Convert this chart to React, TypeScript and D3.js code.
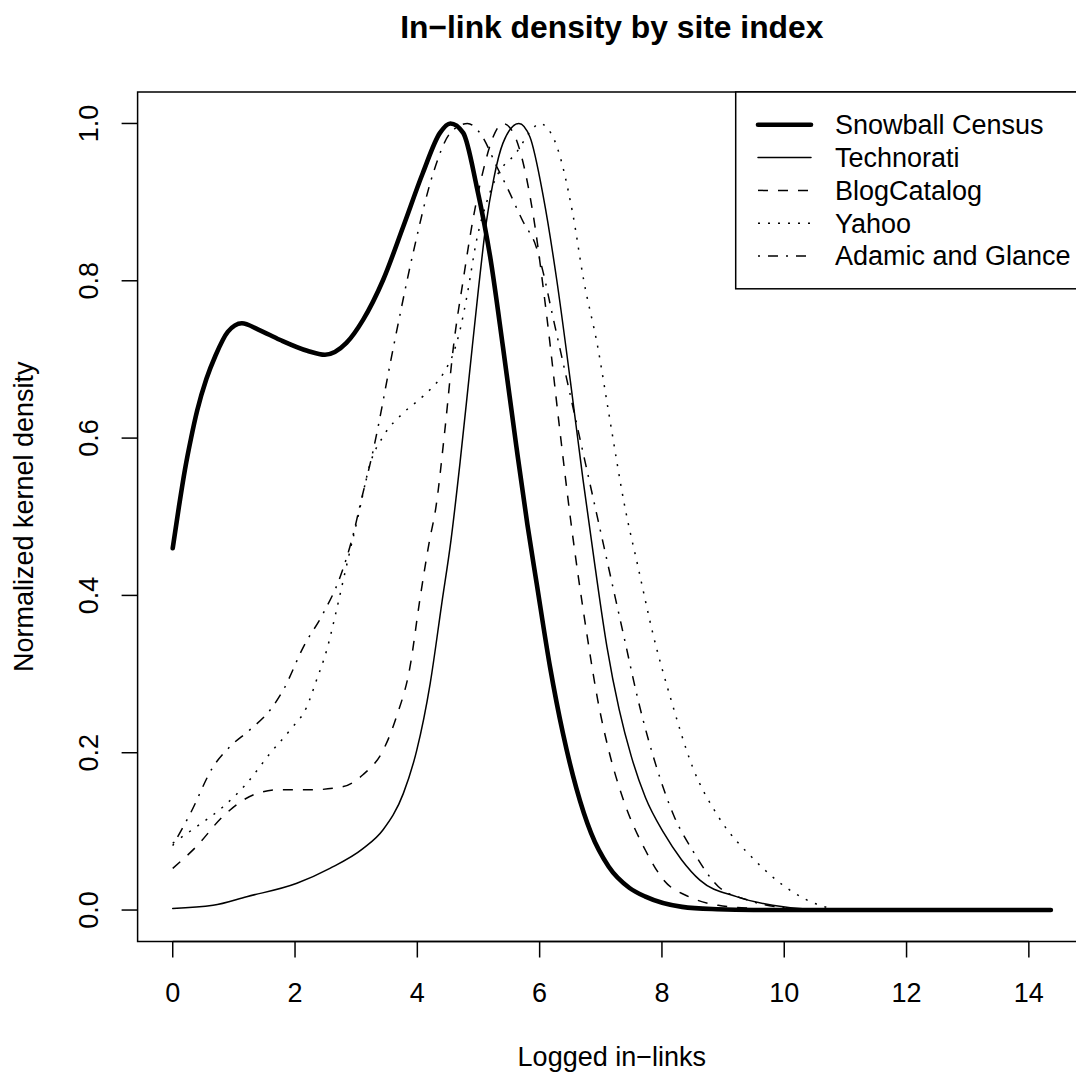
import React, { useEffect, useRef } from 'react';
import * as d3 from 'd3';

const snowballCensus = [
  [0, 0.46], [0.1, 0.512], [0.2, 0.56], [0.3, 0.6], [0.4, 0.635], [0.55, 0.675],
  [0.7, 0.705], [0.9, 0.735], [1.13, 0.746],
  [1.4, 0.738], [1.75, 0.725], [2.2, 0.711], [2.49, 0.706], [2.84, 0.721], [3.11, 0.75],
  [3.44, 0.801], [3.77, 0.869], [4.09, 0.937], [4.37, 0.988], [4.54, 1.0], [4.75, 0.988],
  [4.97, 0.92], [5.19, 0.831], [5.4, 0.716], [5.62, 0.589], [5.8, 0.49], [5.95, 0.416],
  [6.17, 0.309], [6.38, 0.225], [6.6, 0.155], [6.84, 0.098], [7.13, 0.055], [7.47, 0.028],
  [7.73, 0.017], [8.33, 0.004], [8.9, 0.001], [9.5, 0], [14.36, 0],
];
const technorati = [
  [0, 0.002], [0.66, 0.006], [1.21, 0.017], [2.03, 0.034], [2.57, 0.053], [3.11, 0.078],
  [3.44, 0.102], [3.77, 0.148], [3.99, 0.203], [4.21, 0.288], [4.4, 0.39], [4.55, 0.47],
  [4.7, 0.57], [4.85, 0.68], [5.0, 0.79], [5.12, 0.87], [5.25, 0.93], [5.4, 0.975],
  [5.66, 1.0], [5.84, 0.983], [6.06, 0.907], [6.28, 0.801], [6.5, 0.674], [6.71, 0.547],
  [6.9, 0.44], [7.1, 0.335], [7.3, 0.255], [7.5, 0.195], [7.73, 0.143], [8.03, 0.098],
  [8.32, 0.064], [8.62, 0.038], [9.22, 0.017], [9.81, 0.006], [10.4, 0.001], [11, 0],
  [14.36, 0],
];
const blogCatalog = [
  [0, 0.053], [0.39, 0.081], [0.82, 0.119], [1.37, 0.148], [1.75, 0.153], [2.3, 0.153],
  [2.79, 0.157], [3.11, 0.172], [3.44, 0.203], [3.66, 0.246], [3.88, 0.309], [4.04, 0.394],
  [4.2, 0.47], [4.3, 0.51], [4.45, 0.61], [4.59, 0.716], [4.75, 0.801], [4.91, 0.878],
  [5.08, 0.941], [5.24, 0.983], [5.4, 1.0], [5.57, 0.988], [5.73, 0.95], [5.89, 0.886],
  [6.11, 0.759], [6.33, 0.61], [6.5, 0.5], [6.77, 0.352], [6.95, 0.267], [7.13, 0.203],
  [7.37, 0.14], [7.73, 0.076], [8.03, 0.038], [8.44, 0.017], [8.92, 0.006], [9.5, 0.002],
  [10.2, 0], [14.36, 0],
];
const yahoo = [
  [0, 0.085], [0.39, 0.106], [0.82, 0.131], [1.21, 0.161], [1.59, 0.199], [1.92, 0.229],
  [2.19, 0.258], [2.35, 0.292], [2.52, 0.331], [2.68, 0.382], [2.84, 0.437], [3.03, 0.5],
  [3.23, 0.568], [3.44, 0.602], [3.77, 0.632], [4.09, 0.653], [4.43, 0.683], [4.59, 0.708],
  [4.7, 0.738], [4.81, 0.78], [4.97, 0.852], [5.13, 0.899], [5.3, 0.933], [5.62, 0.963],
  [5.85, 0.99], [6.0, 1.0], [6.24, 0.979], [6.54, 0.886], [6.72, 0.801], [6.95, 0.716],
  [7.13, 0.632], [7.4, 0.51], [7.61, 0.436], [7.85, 0.352], [8.15, 0.267], [8.5, 0.182],
  [8.92, 0.119], [9.51, 0.064], [10.1, 0.025], [10.58, 0.006], [11.0, 0], [14.36, 0],
];
const adamicGlance = [
  [0, 0.082], [0.29, 0.123], [0.66, 0.182], [0.94, 0.208], [1.26, 0.229], [1.59, 0.254],
  [1.81, 0.28], [2.14, 0.335], [2.46, 0.377], [2.74, 0.424], [2.96, 0.48], [3.07, 0.517],
  [3.28, 0.585], [3.61, 0.716], [3.93, 0.835], [4.26, 0.937], [4.54, 0.988], [4.82, 1.0],
  [5.05, 0.985], [5.3, 0.945], [5.46, 0.92], [5.73, 0.875], [5.94, 0.844], [6.06, 0.81],
  [6.2, 0.76], [6.4, 0.69], [6.6, 0.62], [6.8, 0.55], [7.0, 0.48], [7.2, 0.41],
  [7.4, 0.34], [7.61, 0.267], [7.91, 0.182], [8.2, 0.119], [8.5, 0.076], [8.92, 0.03],
  [9.39, 0.013], [10.1, 0.002], [10.6, 0], [14.36, 0],
];

const seriesNames = ['Snowball Census', 'Technorati', 'BlogCatalog', 'Yahoo', 'Adamic and Glance'];
const xTicks = [0, 2, 4, 6, 8, 10, 12, 14];
const yTicks = [0.0, 0.2, 0.4, 0.6, 0.8, 1.0];

const FONT = '"Liberation Sans", Arial, Helvetica, sans-serif';
const FS = 27;

const App = () => {
  const svgRef = useRef(null);

  useEffect(() => {
    const width = 1076;
    const height = 1076;
    const svg = d3.select(svgRef.current);
    svg.selectAll('*').remove();

    svg.append('rect').attr('width', width).attr('height', height).attr('fill', '#fff');

    // plot region (R: 4% padding around data range)
    const left = 137.6, right = 1086, top = 92, bottom = 941.5;
    const xMax = 14.36;
    const x = d3.scaleLinear().domain([-0.04 * xMax, xMax * 1.04]).range([left, right]);
    const y = d3.scaleLinear().domain([-0.04, 1.04]).range([bottom, top]);

    const line = d3.line()
      .x((d) => x(d[0]))
      .y((d) => y(d[1]))
      .curve(d3.curveMonotoneX);

    const styles = [
      { data: snowballCensus, width: 4.6, dash: null },
      { data: technorati, width: 1.5, dash: null },
      { data: blogCatalog, width: 1.5, dash: '10,10' },
      { data: yahoo, width: 1.5, dash: '2,8' },
      { data: adamicGlance, width: 1.5, dash: '2,8,10,8' },
    ];

    // draw thin ones first, thick one on top
    [1, 2, 3, 4, 0].forEach((i) => {
      const s = styles[i];
      svg.append('path')
        .attr('d', line(s.data))
        .attr('fill', 'none')
        .attr('stroke', '#000')
        .attr('stroke-width', s.width)
        .attr('stroke-linecap', s.dash ? 'butt' : 'round')
        .attr('stroke-linejoin', 'round')
        .attr('stroke-dasharray', s.dash);
    });

    // box
    svg.append('rect')
      .attr('x', left).attr('y', top)
      .attr('width', right - left).attr('height', bottom - top)
      .attr('fill', 'none').attr('stroke', '#000').attr('stroke-width', 1.5);

    // x axis
    const xAxis = svg.append('g');
    xAxis.append('line')
      .attr('x1', x(xTicks[0])).attr('x2', x(xTicks[xTicks.length - 1]))
      .attr('y1', bottom).attr('y2', bottom)
      .attr('stroke', '#000').attr('stroke-width', 1.5);
    xTicks.forEach((t) => {
      xAxis.append('line')
        .attr('x1', x(t)).attr('x2', x(t))
        .attr('y1', bottom).attr('y2', bottom + 16)
        .attr('stroke', '#000').attr('stroke-width', 1.5);
      xAxis.append('text')
        .attr('x', x(t)).attr('y', 1002)
        .attr('text-anchor', 'middle')
        .attr('font-family', FONT).attr('font-size', FS)
        .text(String(t));
    });

    // y axis
    const yAxis = svg.append('g');
    yTicks.forEach((t) => {
      yAxis.append('line')
        .attr('x1', left - 16).attr('x2', left)
        .attr('y1', y(t)).attr('y2', y(t))
        .attr('stroke', '#000').attr('stroke-width', 1.5);
      yAxis.append('text')
        .attr('transform', `translate(98,${y(t)}) rotate(-90)`)
        .attr('text-anchor', 'middle')
        .attr('font-family', FONT).attr('font-size', FS)
        .text(t.toFixed(1));
    });

    const cx = (left + right) / 2;
    const cy = (top + bottom) / 2;

    svg.append('text')
      .attr('x', cx).attr('y', 38)
      .attr('text-anchor', 'middle')
      .attr('font-family', FONT).attr('font-size', 31.8).attr('font-weight', 'bold')
      .text('In\u2212link density by site index');

    svg.append('text')
      .attr('x', cx).attr('y', 1066)
      .attr('text-anchor', 'middle')
      .attr('font-family', FONT).attr('font-size', FS)
      .text('Logged in\u2212links');

    svg.append('text')
      .attr('transform', `translate(33,${cy}) rotate(-90)`)
      .attr('text-anchor', 'middle')
      .attr('font-family', FONT).attr('font-size', FS)
      .text('Normalized kernel density');

    // legend (topright, runs past the picture edge like the original)
    const legTop = top;
    const rowH = 32.8;
    const legend = svg.append('g');
    legend.append('rect')
      .attr('x', 735.7).attr('y', legTop)
      .attr('width', right - 735.7).attr('height', rowH * 6)
      .attr('fill', '#fff').attr('stroke', '#000').attr('stroke-width', 1.5);
    seriesNames.forEach((name, i) => {
      const ry = legTop + rowH * (i + 1);
      const s = styles[i];
      legend.append('line')
        .attr('x1', 758).attr('x2', 811)
        .attr('y1', ry).attr('y2', ry)
        .attr('stroke', '#000')
        .attr('stroke-width', s.width)
        .attr('stroke-linecap', s.dash ? 'butt' : 'round')
        .attr('stroke-dasharray', s.dash);
      legend.append('text')
        .attr('x', 835).attr('y', ry)
        .attr('dy', '0.35em')
        .attr('font-family', FONT).attr('font-size', FS)
        .text(name);
    });
  }, []);

  return (
    <svg
      ref={svgRef}
      width={1076}
      height={1076}
      style={{ position: 'absolute', left: 0, top: 0, display: 'block' }}
    ></svg>
  );
};

export default App;
